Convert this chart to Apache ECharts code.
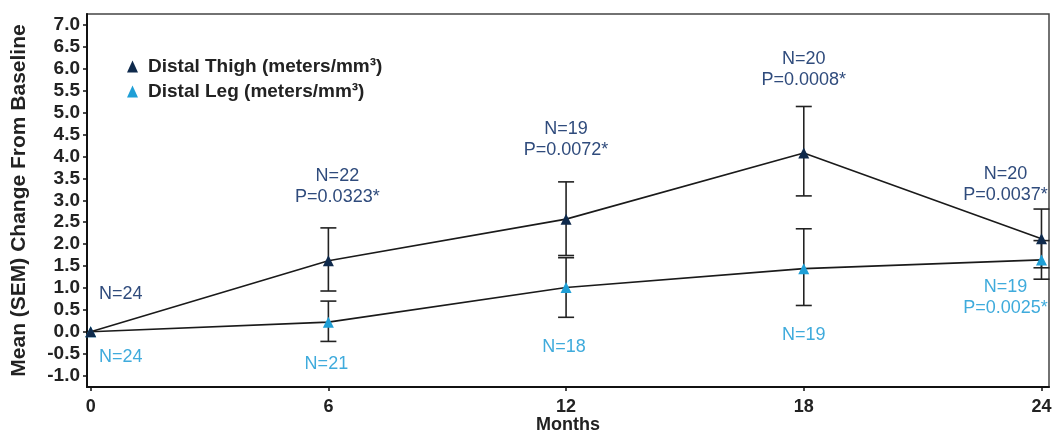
<!DOCTYPE html>
<html>
<head>
<meta charset="utf-8">
<script src="https://cdn.jsdelivr.net/npm/echarts@6/dist/echarts.min.js"></script>
<style>
  html, body { margin: 0; padding: 0; background: #fff; }
  #chart { width: 1053px; height: 434px; }
</style>
</head>
<body>
<div id="chart"></div>
<script>
// data
const months = [0, 6, 12, 18, 24];
const yTicks = [-1.0, -0.5, 0.0, 0.5, 1.0, 1.5, 2.0, 2.5, 3.0, 3.5, 4.0, 4.5, 5.0, 5.5, 6.0, 6.5, 7.0];

const thighMean = [0, 1.62, 2.57, 4.08, 2.12];
const thighLow = [0, 0.93, 1.74, 3.10, 1.46];
const thighHigh = [0, 2.37, 3.42, 5.14, 2.80];
const thighNotes = ["N=24", "N=22\nP=0.0323*", "N=19\nP=0.0072*", "N=20\nP=0.0008*", "N=20\nP=0.0037*"];

const legMean = [0, 0.22, 1.01, 1.44, 1.64];
const legLow = [0, -0.22, 0.33, 0.60, 1.20];
const legHigh = [0, 0.70, 1.69, 2.35, 2.08];
const legNotes = ["N=24", "N=21", "N=18", "N=19", "N=19\nP=0.0025*"];

const thighName = "Distal Thigh (meters/mm³)";
const legName = "Distal Leg (meters/mm³)";

const font = "'Liberation Sans', Arial, sans-serif";
const thighColor = "#0f2a4c";
const legColor = "#1f9fd6";
const thighText = "#2f4b7c";
const legText = "#3fabdc";

// label offsets (px) from each point
const thighOffsets = [[30, -38], [9, -74], [0, -80], [0, -83], [-36, -54]];
const legOffsets = [[30, 25], [-2, 42], [-2, 60], [0, 66], [-36, 38]];

function lineData(mean, notes, offsets) {
  return months.map((m, i) => ({
    value: [m, mean[i]],
    label: { formatter: notes[i], offset: offsets[i] }
  }));
}

function barData(low, high) {
  return months
    .map((m, i) => [m, low[i], high[i]])
    .filter((d) => d[2] !== d[1]);
}

function renderErrorBar(params, api) {
  const x = api.value(0);
  const lo = api.coord([x, api.value(1)]);
  const hi = api.coord([x, api.value(2)]);
  const half = 8;
  const style = { stroke: "#222", lineWidth: 1.6 };
  return {
    type: "group",
    children: [
      { type: "line", shape: { x1: hi[0], y1: hi[1], x2: lo[0], y2: lo[1] }, style: style },
      { type: "line", shape: { x1: hi[0] - half, y1: hi[1], x2: hi[0] + half, y2: hi[1] }, style: style },
      { type: "line", shape: { x1: lo[0] - half, y1: lo[1], x2: lo[0] + half, y2: lo[1] }, style: style }
    ]
  };
}

const chart = echarts.init(document.getElementById("chart"), null, { renderer: "canvas" });

const option = {
  animation: false,
  textStyle: { fontFamily: font },
  grid: {
    left: 87,
    right: 4,
    top: 14,
    bottom: 47,
    containLabel: false,
    outerBoundsMode: "none",
    show: true,
    borderColor: "#444",
    borderWidth: 1.5
  },
  legend: {
    orient: "vertical",
    left: 122,
    top: 52,
    itemWidth: 11,
    itemHeight: 12,
    itemGap: 6,
    icon: "triangle",
    data: [thighName, legName],
    textStyle: {
      fontFamily: font,
      fontSize: 19,
      fontWeight: "bold",
      color: "#222",
      lineHeight: 16,
      padding: [0, 0, 0, 5]
    }
  },
  xAxis: {
    type: "value",
    min: -0.093,
    max: 24.19,
    name: "Months",
    nameLocation: "middle",
    nameGap: 29,
    nameMoveOverlap: false,
    nameTextStyle: { fontFamily: font, fontSize: 18, fontWeight: "bold", color: "#222" },
    axisLine: { show: true, onZero: false, lineStyle: { color: "#111", width: 2 } },
    axisTick: { show: true, length: 4, customValues: months, lineStyle: { color: "#111", width: 1.5 } },
    axisLabel: {
      customValues: months,
      margin: 11,
      fontFamily: font,
      fontSize: 18,
      fontWeight: "bold",
      color: "#222"
    },
    splitLine: { show: false }
  },
  yAxis: {
    type: "value",
    min: -1.26,
    max: 7.25,
    name: "Mean (SEM) Change From Baseline",
    nameLocation: "middle",
    nameGap: 57,
    nameMoveOverlap: false,
    nameTextStyle: { fontFamily: font, fontSize: 21, fontWeight: "bold", color: "#222" },
    axisLine: { show: true, onZero: false, lineStyle: { color: "#111", width: 2 } },
    axisTick: { show: true, length: 4, customValues: yTicks, lineStyle: { color: "#111", width: 1.5 } },
    axisLabel: {
      customValues: yTicks,
      margin: 7,
      fontFamily: font,
      fontSize: 19,
      fontWeight: "bold",
      color: "#222",
      formatter: (v) => v.toFixed(1)
    },
    splitLine: { show: false }
  },
  series: [
    {
      type: "custom",
      name: "thighErr",
      renderItem: renderErrorBar,
      data: barData(thighLow, thighHigh),
      z: 3,
      silent: true
    },
    {
      type: "custom",
      name: "legErr",
      renderItem: renderErrorBar,
      data: barData(legLow, legHigh),
      z: 3,
      silent: true
    },
    {
      type: "line",
      name: legName,
      data: lineData(legMean, legNotes, legOffsets),
      clip: false,
      symbol: "triangle",
      symbolSize: 11,
      itemStyle: { color: legColor },
      lineStyle: { color: "#1a1a1a", width: 1.6 },
      label: {
        show: true,
        position: "inside",
        align: "center",
        verticalAlign: "middle",
        fontFamily: font,
        fontSize: 18,
        lineHeight: 21,
        color: legText
      },
      z: 4
    },
    {
      type: "line",
      name: thighName,
      data: lineData(thighMean, thighNotes, thighOffsets),
      clip: false,
      symbol: "triangle",
      symbolSize: 11,
      itemStyle: { color: thighColor },
      lineStyle: { color: "#1a1a1a", width: 1.6 },
      label: {
        show: true,
        position: "inside",
        align: "center",
        verticalAlign: "middle",
        fontFamily: font,
        fontSize: 18,
        lineHeight: 21,
        color: thighText
      },
      z: 5
    }
  ]
};

chart.setOption(option);
</script>
</body>
</html>
